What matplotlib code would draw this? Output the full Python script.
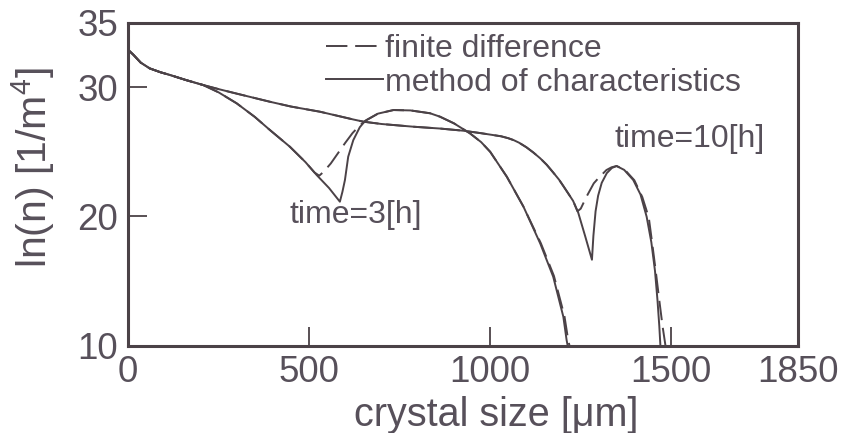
import matplotlib
matplotlib.use("Agg")
import matplotlib.pyplot as plt

plt.rcParams['font.family'] = ['Liberation Sans', 'DejaVu Sans']
plt.rcParams['mathtext.fontset'] = 'custom'
plt.rcParams['mathtext.rm'] = 'Liberation Sans'
plt.rcParams['mathtext.it'] = 'Liberation Sans'

# crystal size distribution, ln(n) against size L [um]
# time = 3 h
x_moc_3h = [0, 15, 35, 60, 90, 116, 160, 208, 250, 300, 350, 392, 447, 490, 521,
            555, 585, 592, 599, 608, 622, 640, 655, 690, 733, 780, 834, 861, 900,
            944, 975, 1000, 1046, 1092, 1138, 1174, 1202, 1211, 1214]
y_moc_3h = [32.9, 32.5, 31.9, 31.45, 31.15, 30.94, 30.55, 30.16, 29.6, 28.75, 27.7,
            26.68, 25.39, 24.2, 23.2, 22.2, 21.14, 21.9, 22.82, 24.62, 25.9, 26.9,
            27.4, 27.95, 28.23, 28.2, 27.98, 27.72, 27.2, 26.43, 25.75, 25.0, 23.07,
            20.75, 17.92, 15.34, 12.24, 10.44, 10.0]

x_fd_3h = [0, 15, 35, 60, 90, 116, 160, 208, 250, 300, 350, 392, 447, 490, 515,
           528, 540, 560, 580, 600, 620, 641, 659, 690, 733, 780, 834, 861, 900,
           944, 975, 1000, 1046, 1092, 1140, 1176, 1205, 1215, 1219]
y_fd_3h = [32.9, 32.5, 31.9, 31.45, 31.15, 30.94, 30.55, 30.16, 29.6, 28.75, 27.7,
           26.68, 25.39, 24.2, 23.4, 23.15, 23.45, 24.1, 24.9, 25.7, 26.45, 27.07,
           27.46, 27.95, 28.23, 28.2, 27.98, 27.72, 27.2, 26.43, 25.75, 25.0, 23.07,
           20.75, 17.92, 15.4, 12.3, 10.5, 10.0]

# time = 10 h
x_moc_10h = [0, 15, 35, 60, 90, 116, 160, 208, 250, 300, 392, 450, 530, 622, 650,
             700, 788, 861, 926, 972, 1000, 1030, 1050, 1065, 1080, 1100, 1119,
             1138, 1156, 1174, 1190, 1202, 1215, 1229, 1243, 1262, 1281, 1285,
             1291, 1298, 1308, 1322, 1336, 1349, 1370, 1395, 1415, 1432, 1445,
             1455, 1462, 1467, 1470]
y_moc_10h = [32.9, 32.5, 31.9, 31.45, 31.15, 30.94, 30.55, 30.16, 29.85, 29.5, 28.87,
             28.5, 28.1, 27.5, 27.33, 27.15, 26.94, 26.8, 26.63, 26.45, 26.33, 26.2,
             26.05, 25.9, 25.7, 25.35, 24.95, 24.5, 24.0, 23.4, 22.85, 22.35, 21.8,
             21.2, 20.3, 18.5, 16.65, 18.5, 20.4, 21.6, 22.6, 23.35, 23.75, 23.9,
             23.6, 22.82, 21.7, 19.98, 18.0, 15.8, 13.5, 11.5, 10.0]

x_fd_10h = [0, 15, 35, 60, 90, 116, 160, 208, 250, 300, 392, 450, 530, 622, 650,
            700, 788, 861, 926, 972, 1000, 1030, 1050, 1065, 1080, 1100, 1119,
            1138, 1156, 1174, 1190, 1202, 1215, 1229, 1241, 1250, 1266, 1286, 1300,
            1321, 1335, 1349, 1372, 1398, 1420, 1438, 1447, 1457, 1467, 1476, 1484]
y_fd_10h = [32.9, 32.5, 31.9, 31.45, 31.15, 30.94, 30.55, 30.16, 29.85, 29.5, 28.87,
            28.5, 28.1, 27.5, 27.33, 27.15, 26.94, 26.8, 26.63, 26.45, 26.33, 26.2,
            26.05, 25.9, 25.7, 25.35, 24.95, 24.5, 24.0, 23.4, 22.85, 22.35, 21.8,
            21.2, 20.4, 20.6, 21.53, 22.56, 23.0, 23.59, 23.8, 23.9, 23.6, 22.8,
            21.5, 19.9, 18.0, 15.8, 13.5, 11.5, 10.0]

x_ticks = [0, 500, 1000, 1500, 1850]
y_ticks = [10, 20, 30, 35]

ink = '#4b4247'
txt = '#57505a'

fig = plt.figure(figsize=(8.46, 4.33), dpi=100)
ax = fig.add_axes([0.1513, 0.2016, 0.7920, 0.7464])

lw = 1.4
ax.plot(x_moc_3h, y_moc_3h, color=ink, lw=lw)
ax.plot(x_moc_10h, y_moc_10h, color=ink, lw=lw)
ax.plot(x_fd_3h, y_fd_3h, color=ink, lw=lw, dashes=(10, 4))
ax.plot(x_fd_10h, y_fd_10h, color=ink, lw=lw, dashes=(10, 4))

# legend handles only
h_fd, = ax.plot([], [], color=ink, lw=lw, dashes=(11, 4))
h_moc, = ax.plot([], [], color=ink, lw=lw)
leg = ax.legend([h_fd, h_moc], ['finite difference', 'method of characteristics'],
                loc='upper left', bbox_to_anchor=(0.295, 0.965), frameon=False,
                fontsize=23, handlelength=1.8, handletextpad=0.05,
                labelspacing=0.12, borderpad=0, borderaxespad=0)
for t in leg.get_texts():
    t.set_color(txt)

ax.text(630, 20.1, 'time=3[h]', ha='center', va='center', fontsize=23, color=txt)
ax.text(1552, 26.0, 'time=10[h]', ha='center', va='center', fontsize=23, color=txt)

ax.set_xlim(0, 1850)
ax.set_ylim(10, 35)
ax.set_xticks(x_ticks)
ax.set_yticks(y_ticks)
ax.tick_params(direction='in', length=14, width=1.3, color=ink, labelsize=26.5,
               labelcolor=txt, pad=7, top=False, right=False)

for s in ax.spines.values():
    s.set_linewidth(2.2)
    s.set_color(ink)

ax.set_xlabel('crystal size [\u03bcm]', fontsize=28.5, color=txt)
ax.xaxis.set_label_coords(0.549, -0.155)
ax.set_ylabel(r'ln(n) [1/m$^4$]', fontsize=29.5, color=txt)
ax.yaxis.set_label_coords(-0.106, 0.55)

fig.savefig('out.png', dpi=100)
